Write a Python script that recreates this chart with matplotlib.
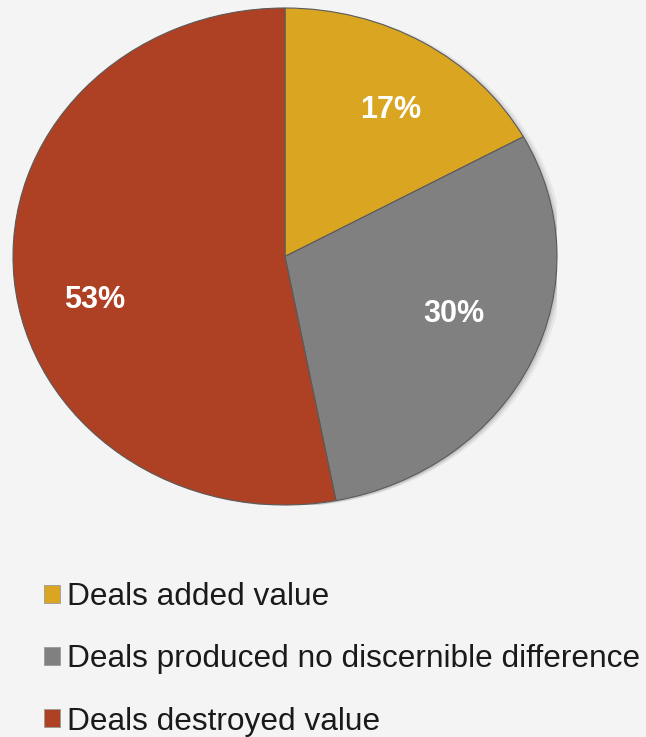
import matplotlib.pyplot as plt
from matplotlib.patches import Ellipse, Patch

# 数据
labels = ["Deals added value",
          "Deals produced no discernible difference",
          "Deals destroyed value"]
shares = [17, 30, 53]
colors = ["#DAA520", "#808080", "#AE4123"]
# 百分比标签位置（数据坐标，半径 = 1）
label_pos = [(0.39, 0.59), (0.62, -0.23), (-0.70, -0.175)]

BG = "#F4F4F4"

plt.rcParams["font.family"] = ["Liberation Sans", "DejaVu Sans"]

fig = plt.figure(figsize=(6.46, 7.37), dpi=100, facecolor=BG)
# 椭圆形饼图：坐标轴非等比例
ax = fig.add_axes([13 / 646, 1 - 505 / 737, 544 / 646, 497 / 737])
ax.set_facecolor(BG)

# 右侧淡阴影
for dx, a in [(0.025, 0.10), (0.015, 0.15), (0.007, 0.20)]:
    ax.add_patch(Ellipse((dx, -0.005), 2.0, 2.0, color="#777777",
                         alpha=a, lw=0, zorder=0))

wedges, _, autotexts = ax.pie(
    shares, colors=colors, startangle=90, counterclock=False,
    autopct=lambda p: f"{round(p)}%", pctdistance=0.7,
    wedgeprops=dict(edgecolor="#5a5a5a", linewidth=0.8),
    textprops=dict(color="white", fontsize=22, fontweight="bold"))
for t, (x, y) in zip(autotexts, label_pos):
    t.set_position((x, y))
    t.set_ha("center")
    t.set_va("center")

ax.set_aspect("auto")
ax.set_xlim(-1.0, 1.0)
ax.set_ylim(-1.0, 1.0)
ax.axis("off")

handles = [Patch(facecolor=c, edgecolor="#9a9a9a", linewidth=0.6) for c in colors]
fig.legend(handles, labels, loc="upper left", bbox_to_anchor=(44 / 646, 1 - 582 / 737),
           frameon=False, fontsize=22.8, handlelength=0.5, handleheight=0.5,
           handletextpad=0.22, labelspacing=1.02, borderpad=0, borderaxespad=0,
           labelcolor="#1a1a1a")

fig.savefig("out.png", dpi=100, facecolor=BG)
